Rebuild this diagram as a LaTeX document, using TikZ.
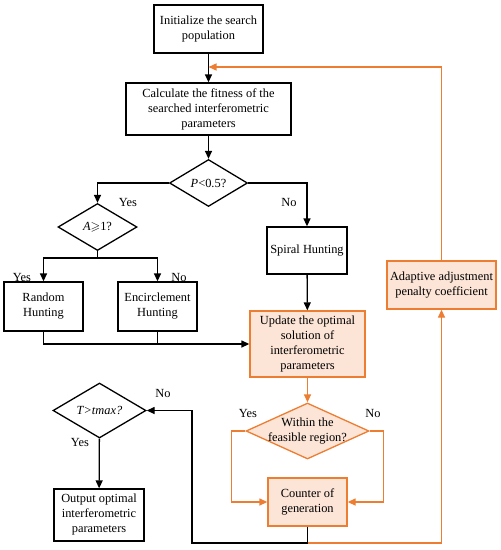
\documentclass[tikz,border=0pt]{standalone}
\usepackage{amsmath, amssymb}
\usepackage{fontspec}
\setmainfont{Liberation Serif}
\usetikzlibrary{arrows.meta}
\usetikzlibrary{shapes}
\definecolor{lineorange}{RGB}{237,125,49}
\definecolor{fillpeach}{RGB}{252,228,214}
\tikzset{
    block/.style={
        draw,
        rectangle,
        line width=1.3pt,
        align=center,
        inner sep=2pt,
        font=\fontsize{12.4}{15}\selectfont
    },
    hlblock/.style={
        block,
        draw=lineorange,
        fill=fillpeach
    },
    decision/.style={
        draw,
        diamond,
        line width=1.3pt,
        inner sep=-30pt,
        align=center,
        font=\fontsize{12.4}{15}\selectfont
    },
    lbl/.style={
        font=\fontsize{12.4}{15}\selectfont,
        inner sep=0pt
    },
    flow/.style={
        draw,
        line width=1.3pt,
        -{Triangle[length=8pt, width=7pt]}
    },
    plain/.style={
        draw,
        line width=1.3pt
    },
    oflow/.style={
        flow,
        draw=lineorange,
        color=lineorange
    }
}

\begin{document}
\begin{tikzpicture}[x=1pt, y=-1pt]
    \useasboundingbox (0,0) rectangle (501,550);
    % Blocks
    \node[block, minimum width=109pt, minimum height=48pt] (init) at (208.5,29) {Initialize the search\\population};
    \node[block, minimum width=165pt, minimum height=52pt] (calc) at (208.5,109) {Calculate the fitness of the\\searched interferometric\\parameters};
    \node[decision, minimum width=78pt, minimum height=47pt] (pdec) at (208.5,183) {\textit{P}<0.5?};
    \node[decision, minimum width=79pt, minimum height=47pt] (adec) at (97.5,227) {\textit{A}$\geqslant$1?};
    \node[block, minimum width=79pt, minimum height=49pt] (random) at (43.5,306.5) {Random\\Hunting};
    \node[block, minimum width=79pt, minimum height=49pt] (encircle) at (157.5,306.5) {Encirclement\\Hunting};
    \node[block, minimum width=80pt, minimum height=47pt] (spiral) at (307,250.5) {Spiral Hunting};
    \node[hlblock, minimum width=115pt, minimum height=66pt] (update) at (307.5,344) {Update the optimal\\solution of\\interferometric\\parameters};
    \node[hlblock, minimum width=109pt, minimum height=48pt] (adapt) at (441.5,285) {Adaptive adjustment\\penalty coefficient};
    \node[decision, draw=lineorange, fill=fillpeach, minimum width=123pt, minimum height=56pt] (feas) at (307.5,431) {Within the\\feasible region?};
    \node[hlblock, minimum width=79pt, minimum height=48pt] (counter) at (307.5,502) {Counter of\\generation};
    \node[decision, minimum width=93pt, minimum height=55pt] (tdec) at (99.5,410.5) {\textit{T>tmax?}};
    \node[block, minimum width=90pt, minimum height=52pt] (output) at (99,515) {Output optimal\\interferometric\\parameters};

    % Labels
    \node[lbl] (yesp) at (128,202) {Yes};
    \node[lbl] (nop) at (289,202) {No};
    \node[lbl] (yesa) at (22,277) {Yes};
    \node[lbl] (noa) at (179,277) {No};
    \node[lbl] (yesf) at (248,413) {Yes};
    \node[lbl] (nof) at (373,413) {No};
    \node[lbl] (not) at (163,393) {No};
    \node[lbl] (yest) at (80,442) {Yes};

    % Joints
    \coordinate (fb) at (208.5,67);
    \coordinate (asplit) at (97.5,258);
    \coordinate (cbot) at (307.5,543);
    \coordinate (tback) at (192,543);

    % Edges
    \draw[flow] (init) -- (calc);
    \draw[flow] (calc) -- (pdec);
    \draw[flow] (pdec.west) -| (adec.north);
    \draw[flow] (pdec.east) -| (spiral.north);
    \draw[plain] (adec.south) -- (asplit);
    \draw[flow] (asplit) -| (random.north);
    \draw[flow] (asplit) -| (encircle.north);
    \draw[flow] (spiral) -- (update);
    \draw[flow] (random.south) |- (update.west);
    \draw[plain] (encircle.south) -- (encircle.south |- update.west);
    \draw[oflow] (update) -- (feas);
    \draw[oflow] (feas.west) -- ++(-14,0) |- (counter.west);
    \draw[oflow] (feas.east) -- ++(14,0) |- (counter.east);
    \draw[flow] (counter.south) |- (tback) |- (tdec.east);
    \draw[oflow] (cbot) -| (adapt.south);
    \draw[oflow] (adapt.north) |- (fb);
    \draw[flow] (tdec) -- (output);
\end{tikzpicture}
\end{document}
